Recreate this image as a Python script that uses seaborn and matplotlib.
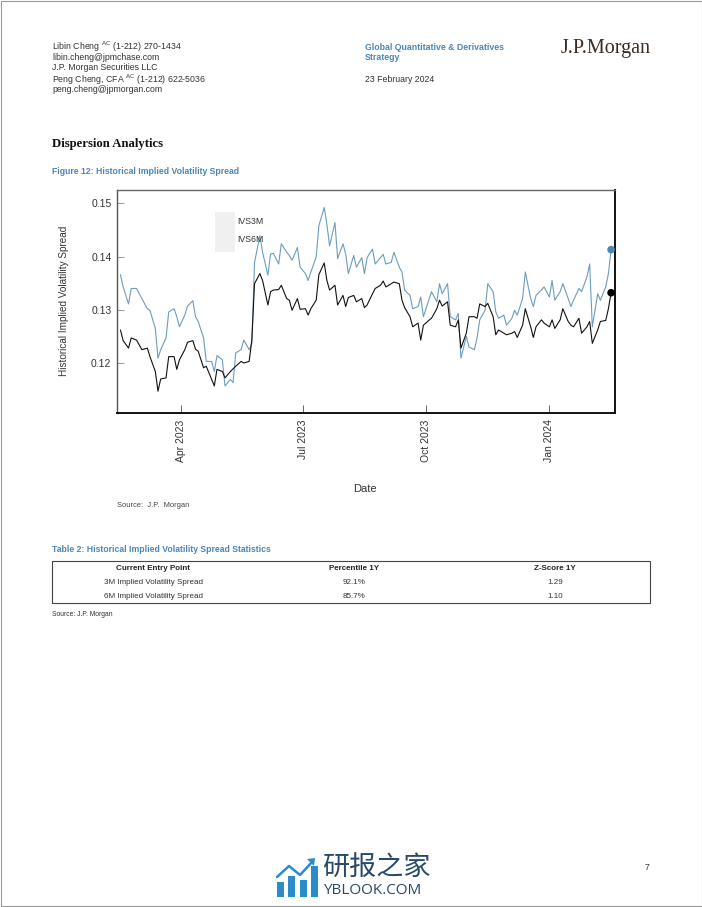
# -*- coding: utf-8 -*-
"""Historical implied volatility spread page, redrawn with seaborn."""
import pandas as pd
import matplotlib.pyplot as plt
import seaborn as sns
from matplotlib.lines import Line2D
from matplotlib.patches import Rectangle, Polygon

# ========== data ==========
START_DATE = "2023-02-15"

ivs3m = [
    .1366, .1343, .1311, .1340, .1340, .1330, .1321, .1302, .1299, .1265, .1209,
    .1225, .1247, .1296, .1302, .1287, .1268, .1290, .1307, .1317, .1287, .1278,
    .1247, .1203, .1203, .1184, .1214, .1206, .1157, .1169, .1163, .1219, .1225,
    .1243, .1225, .1237, .1389, .1439, .1408, .1365, .1405, .1406, .1386, .1424,
    .1408, .1402, .1393, .1417, .1380, .1368, .1355, .1371, .1399, .1458, .1492,
    .1460, .1420, .1464, .1396, .1424, .1405, .1368, .1402, .1380, .1398, .1368,
    .1398, .1414, .1386, .1398, .1404, .1386, .1389, .1408, .1380, .1371, .1337,
    .1327, .1302, .1306, .1324, .1287, .1318, .1334, .1315, .1349, .1330, .1349,
    .1287, .1281, .1293, .1209, .1250, .1230, .1225, .1247, .1281, .1299, .1349,
    .1334, .1296, .1284, .1290, .1271, .1284, .1299, .1290, .1321, .1371, .1321,
    .1306, .1327, .1337, .1343, .1324, .1355, .1318, .1334, .1349, .1321, .1306,
    .1318, .1340, .1334, .1362, .1386, .1268, .1330, .1318, .1343, .1368, .1413,
]
ivs6m = [
    .1262, .1242, .1228, .1247, .1243, .1234, .1225, .1228, .1212, .1184, .1147,
    .1170, .1172, .1212, .1212, .1188, .1206, .1225, .1239, .1242, .1226, .1222,
    .1191, .1194, .1169, .1157, .1188, .1184, .1172, .1184, .1189, .1194, .1203,
    .1200, .1203, .1243, .1349, .1368, .1355, .1309, .1334, .1337, .1338, .1346,
    .1321, .1318, .1299, .1321, .1301, .1302, .1290, .1302, .1318, .1366, .1388,
    .1355, .1337, .1346, .1309, .1327, .1306, .1323, .1327, .1315, .1321, .1304,
    .1309, .1330, .1340, .1346, .1354, .1343, .1349, .1352, .1349, .1318, .1304,
    .1287, .1268, .1275, .1243, .1271, .1280, .1284, .1302, .1318, .1307, .1315,
    .1271, .1268, .1281, .1228, .1256, .1287, .1287, .1284, .1311, .1306, .1312,
    .1287, .1253, .1262, .1256, .1253, .1256, .1259, .1248, .1271, .1302, .1268,
    .1248, .1268, .1281, .1275, .1268, .1281, .1265, .1281, .1302, .1278, .1271,
    .1268, .1284, .1256, .1268, .1278, .1237, .1262, .1278, .1280, .1302, .1332,
]
series_names = ["IVS3M", "IVS6M"]
y_ticks = [0.12, 0.13, 0.14, 0.15]
x_tick_dates = ["2023-04-01", "2023-07-01", "2023-10-01", "2024-01-01"]
x_tick_labels = ["Apr 2023", "Jul 2023", "Oct 2023", "Jan 2024"]

table_header = ["Current Entry Point", "Percentile 1Y", "Z-Score 1Y"]
table_rows = [
    ["3M Implied Volatility Spread", "92.1%", "1.29"],
    ["6M Implied Volatility Spread", "85.7%", "1.10"],
]

BLUE = "#4f86b8"
LINE_BLUE = "#6b9dbd"
TITLE_BLUE = "#4a86b8"
TEXT = "#333333"
W, H = 702, 907

# ========== page ==========
sns.set_theme(style="white")
plt.rcParams["font.family"] = ["Liberation Sans", "DejaVu Sans"]

fig = plt.figure(figsize=(W / 100, H / 100), dpi=100)


def put(x, y, s, **kw):
    # x, y are page pixels from the top left corner
    kw.setdefault("va", "center")
    kw.setdefault("color", TEXT)
    kw.setdefault("fontsize", 6.3)
    return fig.text(x / W, 1 - y / H, s, **kw)


def box(x0, y0, x1, y1, **kw):
    r = Rectangle((x0 / W, 1 - y1 / H), (x1 - x0) / W, (y1 - y0) / H,
                  transform=fig.transFigure, **kw)
    fig.add_artist(r)
    return r


# page edge
box(0.5, 0.5, W - 0.5, H - 1, fill=False, edgecolor="#9a9a9a", linewidth=0.8)

put(52, 47, "Libin Cheng $^{\\mathrm{AC}}$ (1-212) 270-1434")
put(52, 58, "libin.cheng@jpmchase.com")
put(52, 68, "J.P. Morgan Securities LLC")
put(52, 80, "Peng Cheng, CFA $^{\\mathrm{AC}}$ (1-212) 622-5036")
put(52, 90, "peng.cheng@jpmorgan.com")
put(365, 47, "Global Quantitative & Derivatives", color=TITLE_BLUE, fontweight="bold")
put(365, 58, "Strategy", color=TITLE_BLUE, fontweight="bold")
put(365, 80, "23 February 2024")
put(561, 48, "J.P.Morgan", family="Liberation Serif", fontsize=14.5, color="#3b2b22")
put(52, 144, "Dispersion Analytics", family="Liberation Serif", fontweight="bold",
    fontsize=9.2, color="#111111")
put(52, 172, "Figure 12: Historical Implied Volatility Spread", color=TITLE_BLUE,
    fontweight="bold", fontsize=6.2)

# ========== chart ==========
dates = pd.bdate_range(START_DATE, periods=len(ivs3m), freq="2B")
df = pd.DataFrame({"Date": dates, series_names[0]: ivs3m, series_names[1]: ivs6m})
df_long = df.melt(id_vars="Date", var_name="series", value_name="spread")
palette = {series_names[0]: LINE_BLUE, series_names[1]: "#111111"}
marker_palette = {series_names[0]: BLUE, series_names[1]: "#000000"}

ax = fig.add_axes([117 / W, 1 - 412.5 / H, (615 - 117) / W, (412.5 - 190) / H])
sns.lineplot(data=df_long, x="Date", y="spread", hue="series", palette=palette,
             linewidth=0.8, legend=False, ax=ax, errorbar=None)
sns.scatterplot(data=df_long[df_long["Date"] == dates[-1]], x="Date", y="spread",
                hue="series", palette=marker_palette, s=30, linewidth=0, legend=False,
                ax=ax, clip_on=False, zorder=5)

ax.set_xlim(pd.Timestamp("2023-02-12 10:00"), pd.Timestamp("2024-02-18 22:00"))
ax.set_ylim(0.1107, 0.1525)
ax.set_xticks(pd.to_datetime(x_tick_dates))
ax.set_xticklabels(x_tick_labels, rotation=90, fontsize=7.5, color=TEXT)
ax.set_yticks(y_ticks)
ax.set_yticklabels([f"{v:.2f}" for v in y_ticks], fontsize=7.5, color=TEXT)
ax.tick_params(axis="x", direction="in", length=6, width=0.7, color="#666666", pad=5,
               bottom=True)
ax.tick_params(axis="y", direction="in", length=5, width=0.7, color="#999999", pad=4,
               left=True)
ax.set_xlabel("")
ax.set_ylabel("")
for side, col, lw in [("top", "#666666", 1.0), ("left", "#555555", 1.0),
                      ("bottom", "#111111", 1.4), ("right", "#111111", 1.4)]:
    ax.spines[side].set_visible(True)
    ax.spines[side].set_color(col)
    ax.spines[side].set_linewidth(lw)

put(64, 301, "Historical Implied Volatility Spread", rotation=90, ha="center", fontsize=7.2)
put(365, 489, "Date", ha="center", fontsize=8)
put(117, 505, "Source:  J.P.  Morgan", fontsize=5.4, color="#444444")

# legend key background sits behind the axes lines
box(215, 212, 235, 252, facecolor="#f0f0f0", edgecolor="none", zorder=0.5)
ax.patch.set_alpha(0)
handles = [
    Line2D([], [], color=LINE_BLUE, lw=0.8, marker="o", markersize=5.5,
           markerfacecolor=BLUE, markeredgecolor=BLUE),
    Line2D([], [], color="#111111", lw=0.8, marker="o", markersize=5.5,
           markerfacecolor="#000000", markeredgecolor="#000000"),
]
leg = ax.legend(handles, series_names, frameon=False, fontsize=6.3, handlelength=1.7,
                handletextpad=0.65, labelspacing=1.05, borderpad=0, borderaxespad=0,
                loc="upper left",
                bbox_to_anchor=((216.5 - 117) / (615 - 117), (412.5 - 217) / (412.5 - 190)))
for t in leg.get_texts():
    t.set_color(TEXT)

# ========== table ==========
put(52, 550, "Table 2: Historical Implied Volatility Spread Statistics", color=TITLE_BLUE,
    fontweight="bold", fontsize=6.2)
box(52, 561, 650, 603, fill=False, edgecolor="#444444", linewidth=0.8)
col_x = [153, 354, 555]
for x, s in zip(col_x, table_header):
    put(x, 569, s, ha="center", fontweight="bold", fontsize=5.8, color="#222222")
for y, row in zip([582, 596], table_rows):
    for x, s in zip(col_x, row):
        put(x, y, s, ha="center", fontsize=5.8)
put(52, 614, "Source: J.P. Morgan", fontsize=4.9)
put(645, 868, "7", fontsize=6.3)

# ========== watermark ==========
ICON = "#2b8ccb"
for x0, y0 in [(277, 882), (288, 876), (300, 880), (311, 866)]:
    box(x0, y0, x0 + 6.5, 897, facecolor=ICON, edgecolor="none")
fig.add_artist(Line2D([277 / W, 289 / W, 300 / W, 313 / W],
                      [1 - 877 / H, 1 - 866 / H, 1 - 875 / H, 1 - 861 / H],
                      color=ICON, lw=1.8))
fig.add_artist(Polygon([(307 / W, 1 - 859 / H), (315 / W, 1 - 858 / H), (314 / W, 1 - 866 / H)],
                       closed=True, transform=fig.transFigure, facecolor=ICON, edgecolor="none"))
put(322, 867, "研报之家", family=["Noto Sans CJK SC", "DejaVu Sans"], fontsize=19.5,
    color="#28496b")
put(323, 891, "YBLOOK.COM", fontsize=11, color="#28496b", family="Open Sans")

fig.savefig("out.png", dpi=100)
plt.close(fig)
